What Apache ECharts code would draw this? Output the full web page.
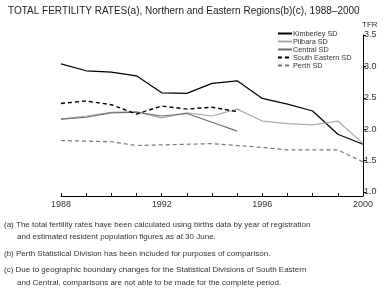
<!DOCTYPE html>
<html><head><meta charset="utf-8">
<script src="https://cdn.jsdelivr.net/npm/echarts@6/dist/echarts.min.js"></script>
<style>html,body{margin:0;padding:0;background:#fff}#c{width:384px;height:298px}</style>
</head><body><div id="c"></div>
<script>
var years = [1988,1989,1990,1991,1992,1993,1994,1995,1996,1997,1998,1999,2000];
var kimberley = [3.04,2.93,2.91,2.85,2.58,2.57,2.73,2.77,2.49,2.40,2.29,1.92,1.76];
var pilbara = [2.16,2.21,2.27,2.28,2.18,2.26,2.21,2.32,2.13,2.09,2.07,2.13,1.77];
var central = [2.16,2.19,2.26,2.27,2.21,2.25,2.11,1.97,null,null,null,null,null];
var southEastern = [2.41,2.45,2.39,2.24,2.37,2.32,2.35,2.28,null,null,null,null,null];
var perth = [1.82,1.81,1.80,1.74,1.75,1.76,1.77,1.74,1.71,1.67,1.67,1.67,1.48];
var yTicks = [1.0,1.5,2.0,2.5,3.0,3.5];
var xLabelYears = [1988,1992,1996,2000];
var footnotes = [
 ['(a) The total fertility rates have been calculated using births data by year of registration', 4],
 ['and estimated resident population figures as at 30 June.', 17],
 ['(b) Perth Statistical Division has been included for purposes of comparison.', 4],
 ['(c) Due to geographic boundary changes for the Statistical Divisions of South Eastern', 4],
 ['and Central, comparisons are not able to be made for the complete period.', 17]
];
var footY = [226,238,255,271,284];

function pairs(arr){return years.map(function(y,i){return [y,arr[i]];});}
var FF = 'Liberation Sans, Arial, sans-serif';
var chart = echarts.init(document.getElementById('c'));
function mk(name, data, color, width, type){
  return {name:name,type:'line',data:pairs(data),symbol:'none',connectNulls:false,
    lineStyle:{color:color,width:width,type:type},itemStyle:{color:color},animation:false};
}
chart.setOption({
  animation:false,
  title:{text:'TOTAL FERTILITY RATES(a), Northern and Eastern Regions(b)(c), 1988\u20132000',left:3,top:1,
    textStyle:{fontSize:10,fontWeight:'normal',color:'#222',fontFamily:FF}},
  legend:{orient:'vertical',left:277,top:29.5,padding:0,itemWidth:14,itemHeight:8,itemGap:0,
    itemStyle:{opacity:0},
    textStyle:{fontSize:7.3,lineHeight:8,color:'#333',fontFamily:FF,padding:[0,0,0,-4]},
    data:['Kimberley SD','Pilbara SD','Central SD','South Eastern SD','Perth SD']},
  grid:{left:61,right:21,top:35,bottom:106},
  xAxis:{type:'value',min:1988,max:2000,interval:1,offset:4,
    axisLine:{lineStyle:{color:'#000',width:1}},
    axisTick:{inside:true,length:3,lineStyle:{color:'#000'}},
    splitLine:{show:false},
    axisLabel:{fontSize:9,color:'#333',fontFamily:FF,margin:4,
      formatter:function(v){return xLabelYears.indexOf(v)>=0?String(v):'';}}},
  yAxis:{type:'value',position:'right',min:1,max:3.5,interval:0.5,
    name:'TFR',nameLocation:'end',nameGap:6,
    nameTextStyle:{fontSize:8,color:'#333',fontFamily:FF,align:'left',padding:[0,0,0,-1]},
    axisLine:{show:true,lineStyle:{color:'#000',width:1}},
    axisTick:{show:true,inside:false,length:3,lineStyle:{color:'#000'}},
    splitLine:{show:false},
    axisLabel:{fontSize:9,color:'#333',fontFamily:FF,margin:1,
      formatter:function(v){return yTicks.indexOf(v)>=0?v.toFixed(1):'';}}},
  series:[
    mk('Kimberley SD',kimberley,'#000',1.2,'solid'),
    mk('Pilbara SD',pilbara,'#aaaaaa',1.2,'solid'),
    mk('Central SD',central,'#6e6e6e',1.2,'solid'),
    mk('South Eastern SD',southEastern,'#000',1.4,[4,3]),
    mk('Perth SD',perth,'#777777',1.2,[4,3])
  ],
  graphic: footnotes.map(function(f,i){
    return {type:'text',left:f[1],top:footY[i]-5,style:{text:f[0],fontSize:8,fill:'#333',fontFamily:FF}};
  })
});
</script></body></html>
